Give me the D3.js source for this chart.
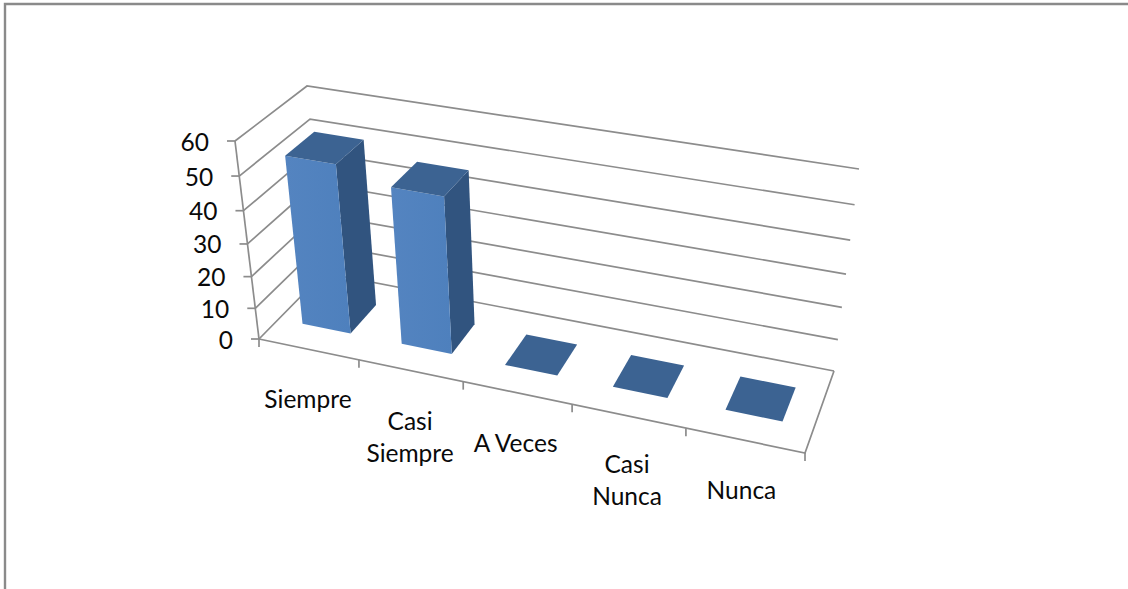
<!DOCTYPE html>
<html><head><meta charset="utf-8">
<script src="https://cdn.jsdelivr.net/npm/d3@7/dist/d3.min.js"></script>
<style>html,body{margin:0;padding:0;background:#fff;overflow:hidden}svg{display:block}text{font-family:Lato,Carlito,sans-serif;fill:#0a0a0a}</style>
</head><body><svg id="c" width="1128" height="589"></svg>
<script>
const categories = ["Siempre","Casi Siempre","A Veces","Casi Nunca","Nunca"];
const values = [52, 48, 0, 0, 0];
const yTicks = [0,10,20,30,40,50,60];

// camera calibration (perspective of the 3D box)
const yFractions = [0,.155,.315,.48,.648,.823,1];
const floorQuad = [[259,339],[805,453],[834,371],[324,273]];
const topQuad = [[235,141],[830,240],[859,169],[307,86]];
const barCentre = 0.49, barHalfWidth = 0.245, zNear = 0.29, zFar = 0.71;

function homography(q){
  const [[x0,y0],[x1,y1],[x2,y2],[x3,y3]] = q;
  const dx1=x1-x2,dx2=x3-x2,sx=x0-x1+x2-x3,dy1=y1-y2,dy2=y3-y2,sy=y0-y1+y2-y3;
  const den=dx1*dy2-dx2*dy1, g=(sx*dy2-dx2*sy)/den, h=(dx1*sy-sx*dy1)/den;
  const a=x1-x0+g*x1,b=x3-x0+h*x3,d=y1-y0+g*y1,e=y3-y0+h*y3;
  return (u,v)=>{const w=g*u+h*v+1;return [(a*u+b*v+x0)/w,(d*u+e*v+y0)/w];};
}
const floorH = homography(floorQuad), topH = homography(topQuad);
const xS = d3.scaleLinear().domain([0,categories.length]).range([0,1]);
const yS = d3.scaleLinear().domain(yTicks).range(yFractions);
function P(x,v,z){
  const a=floorH(xS(x),z), b=topH(xS(x),z), t=yS(v);
  return [a[0]+(b[0]-a[0])*t, a[1]+(b[1]-a[1])*t];
}
const svg = d3.select("#c");
const line = d3.line();
const n = categories.length, grid="#8c8c8c";

// page frame
svg.append("path").attr("d",line([[5,589],[5,4],[1128,4]])).attr("fill","none").attr("stroke","#8a8a8a").attr("stroke-width",2.4);

const defs = svg.append("defs");
const grad = defs.append("linearGradient").attr("id","front").attr("x1",0).attr("x2",1).attr("y1",0).attr("y2",0);
grad.append("stop").attr("offset",0).attr("stop-color","#5484c0");
grad.append("stop").attr("offset",1).attr("stop-color","#4e80bd");

const gl = svg.append("g").attr("fill","none").attr("stroke",grid).attr("stroke-width",1.7);
// walls
yTicks.forEach(v=>{
  gl.append("path").attr("d",line([P(0,v,0),P(0,v,1),P(n,v,1)]));
});
// floor + left axis
gl.append("path").attr("d",line([P(0,0,0),P(n,0,0),P(n,0,1)]));
gl.append("path").attr("d",line([P(0,0,0),P(0,60,0)]));
// y ticks
yTicks.forEach(v=>{const p=P(0,v,0);gl.append("path").attr("d",line([[p[0]-8,p[1]],p]));});
// x ticks
d3.range(0,n+1).forEach(i=>{const p=P(i,0,0);gl.append("path").attr("d",line([p,[p[0],p[1]+8]]));});

// bars
const bars = svg.append("g");
values.forEach((val,i)=>{
  const x0=i+barCentre-barHalfWidth,x1=i+barCentre+barHalfWidth;
  if(val>0){
    bars.append("path").attr("d",line([P(x1,0,zNear),P(x1,0,zFar),P(x1,val,zFar),P(x1,val,zNear)])+"Z").attr("fill","#31547f");
    bars.append("path").attr("d",line([P(x0,0,zNear),P(x1,0,zNear),P(x1,val,zNear),P(x0,val,zNear)])+"Z").attr("fill","url(#front)");
  }
  bars.append("path").attr("d",line([P(x0,val,zNear),P(x1,val,zNear),P(x1,val,zFar),P(x0,val,zFar)])+"Z").attr("fill","#3c6392");
});

// y labels
const fs=24.5;
yTicks.forEach(v=>{const p=P(0,v,0);
  svg.append("text").attr("x",p[0]-26).attr("y",p[1]+9.5).attr("text-anchor","end").attr("font-size",fs).text(v);
});
// category labels
const labelLines=[["Siempre"],["Casi","Siempre"],["A Veces"],["Casi","Nunca"],["Nunca"]];
const labelShift=[-1,-1,-2,-2,-4];
const lastBase=[408,462,452,505,499];
labelLines.forEach((ls,i)=>{
  const a=P(i,0,0),b=P(i+1,0,0),cx=(a[0]+b[0])/2+labelShift[i];
  ls.forEach((t,k)=>{
    svg.append("text").attr("x",cx).attr("y",lastBase[i]-(ls.length-1-k)*32).attr("text-anchor","middle").attr("font-size",fs).text(t);
  });
});
</script></body></html>
